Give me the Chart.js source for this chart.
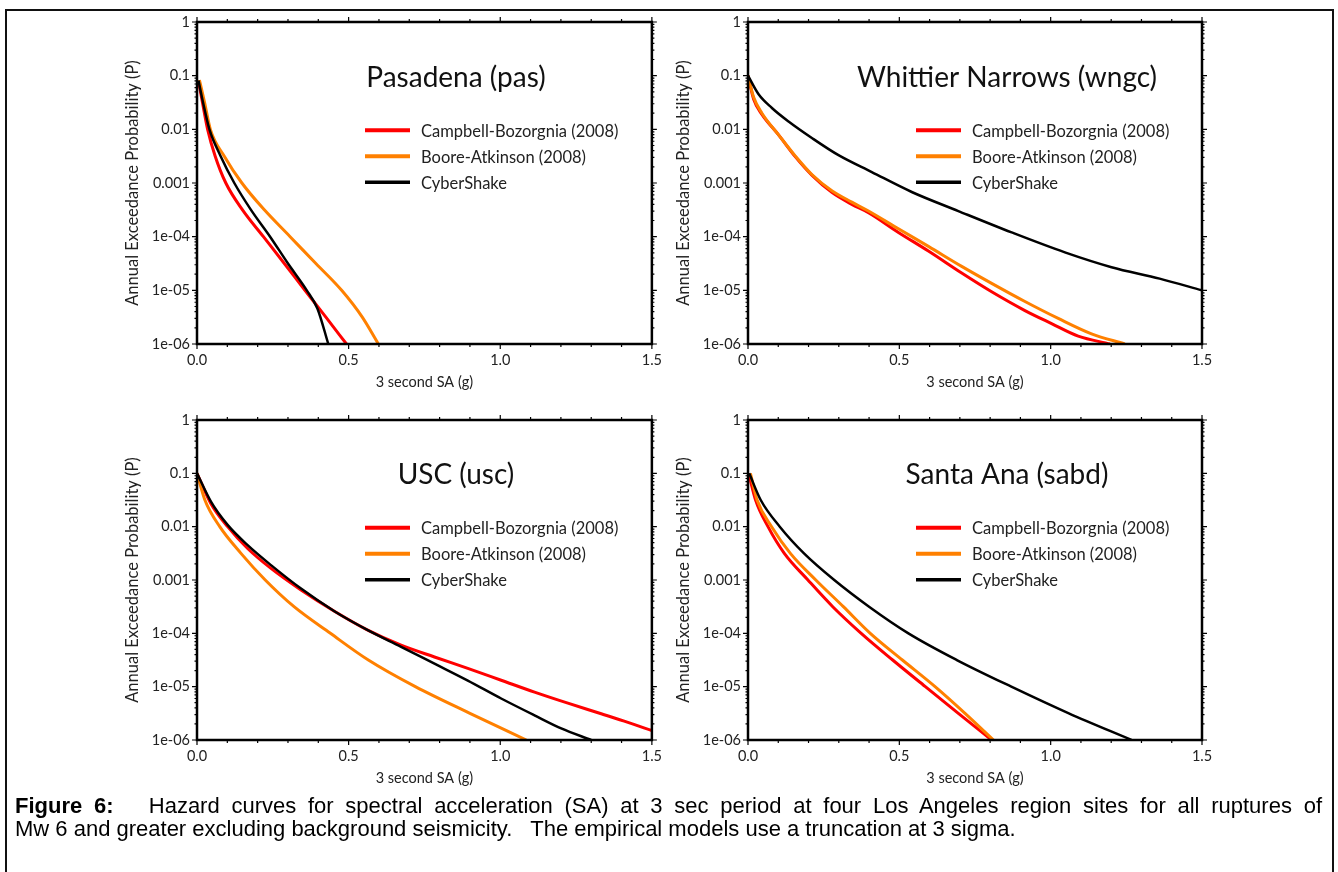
<!DOCTYPE html>
<html>
<head>
<meta charset="utf-8">
<title>Figure 6 - Hazard curves</title>
<script src="https://cdn.jsdelivr.net/npm/chart.js@4.4.0/dist/chart.umd.min.js"></script>
<style>
  body { margin: 0; background: #fff; width: 1338px; height: 872px; overflow: hidden; position: relative; }
  #frame { position: absolute; left: 5px; top: 9px; width: 1325px; height: 900px; border: 2px solid #111; }
  .panel { position: absolute; }
  .cap { position: absolute; left: 15px; font-family: "Liberation Sans", Arial, sans-serif;
         font-size: 22px; line-height: 23px; color: #000; white-space: nowrap; }
  #cap1 { top: 794px; width: 1307px; text-align: justify; text-align-last: justify; }
  #cap2 { top: 817px; }
</style>
</head>
<body>
<div id="frame"></div>
<canvas id="pas" class="panel" width="570" height="400" style="left:100px;top:0px"></canvas>
<canvas id="wngc" class="panel" width="570" height="400" style="left:651px;top:0px"></canvas>
<canvas id="usc" class="panel" width="570" height="400" style="left:100px;top:398px"></canvas>
<canvas id="sabd" class="panel" width="570" height="400" style="left:651px;top:398px"></canvas>
<div id="cap1" class="cap"><b>Figure 6:</b>&nbsp;&nbsp; Hazard curves for spectral acceleration (SA) at 3 sec period at four Los Angeles region sites for all ruptures of</div>
<div id="cap2" class="cap">Mw 6 and greater excluding background seismicity.&nbsp;&nbsp; The empirical models use a truncation at 3 sigma.</div>

<script>
// ----------------------- Data (SA in g, annual probability) ----------------------
const seriesNames = ['Campbell-Bozorgnia (2008)', 'Boore-Atkinson (2008)', 'CyberShake'];
const seriesColors = ['#ff0000', '#ff8000', '#000000'];
const siteNames = ['Pasadena (pas)', 'Whittier Narrows (wngc)', 'USC (usc)', 'Santa Ana (sabd)'];

const xTickValues = [0, 0.5, 1.0, 1.5];
const xTickText = ['0.0', '0.5', '1.0', '1.5'];
const yTickValues = [1e-6, 1e-5, 1e-4, 0.001, 0.01, 0.1, 1];
const yTickText = ['1e-06', '1e-05', '1e-04', '0.001', '0.01', '0.1', '1'];

// Pasadena
const pasCB = [[0.005, 0.079], [0.018, 0.0316], [0.035, 0.01], [0.060, 0.00316], [0.095, 0.001],
  [0.150, 3.16e-4], [0.219, 1e-4], [0.288, 3.16e-5], [0.356, 1e-5], [0.425, 3.16e-6], [0.493, 1e-6]];
const pasBA = [[0.008, 0.083], [0.025, 0.0316], [0.044, 0.01], [0.090, 0.00316], [0.148, 0.001],
  [0.222, 3.16e-4], [0.307, 1e-4], [0.392, 3.16e-5], [0.477, 1e-5], [0.545, 3.16e-6], [0.598, 1e-6]];
const pasCS = [[0.005, 0.081], [0.020, 0.0316], [0.041, 0.01], [0.078, 0.00316], [0.123, 0.001],
  [0.178, 3.16e-4], [0.241, 1e-4], [0.300, 3.16e-5], [0.362, 1e-5], [0.397, 4.6e-6], [0.433, 1e-6]];

// Whittier Narrows
const wngcCB = [[0, 0.1], [0.019, 0.036], [0.046, 0.019], [0.101, 0.0079], [0.156, 0.0031],
  [0.211, 0.0014], [0.277, 6.7e-4], [0.343, 4.0e-4], [0.398, 2.8e-4], [0.497, 1.2e-4],
  [0.596, 5.4e-5], [0.706, 2.1e-5], [0.805, 9.4e-6], [0.915, 4.2e-6], [1.003, 2.4e-6],
  [1.091, 1.4e-6], [1.196, 1e-6]];
const wngcBA = [[0, 0.1], [0.019, 0.039], [0.046, 0.020], [0.101, 0.0079], [0.156, 0.0032],
  [0.211, 0.00144], [0.277, 7.2e-4], [0.343, 4.4e-4], [0.398, 3.0e-4], [0.497, 1.4e-4],
  [0.596, 6.6e-5], [0.706, 2.8e-5], [0.805, 1.35e-5], [0.915, 6.2e-6], [1.025, 3.0e-6],
  [1.135, 1.55e-6], [1.245, 1e-6]];
const wngcCS = [[0, 0.1], [0.035, 0.045], [0.079, 0.025], [0.134, 0.014], [0.211, 0.0069],
  [0.299, 0.0033], [0.409, 0.0016], [0.541, 6.8e-4], [0.695, 3.0e-4], [0.871, 1.2e-4],
  [1.047, 5.1e-5], [1.201, 2.7e-5], [1.360, 1.65e-5], [1.5, 1.0e-5]];

// USC
const uscCB = [[0, 0.1], [0.046, 0.027], [0.101, 0.0100], [0.167, 0.0039], [0.244, 0.00165],
  [0.343, 6.5e-4], [0.453, 2.6e-4], [0.563, 1.15e-4], [0.673, 6.0e-5], [0.783, 3.6e-5],
  [0.893, 2.2e-5], [1.003, 1.32e-5], [1.113, 7.9e-6], [1.223, 4.9e-6], [1.333, 3.1e-6],
  [1.421, 2.14e-6], [1.5, 1.5e-6]];
const uscBA = [[0, 0.1], [0.026, 0.0316], [0.075, 0.01], [0.145, 0.00316], [0.225, 0.001],
  [0.320, 3.16e-4], [0.440, 1e-4], [0.565, 3.16e-5], [0.720, 1e-5], [0.900, 3.16e-6], [1.086, 1e-6]];
const uscCS = [[0, 0.1], [0.046, 0.0295], [0.101, 0.0108], [0.167, 0.0045], [0.244, 0.0019],
  [0.343, 6.9e-4], [0.453, 2.6e-4], [0.563, 1.15e-4], [0.673, 5.6e-5], [0.783, 2.7e-5],
  [0.893, 1.3e-5], [1.003, 6.0e-6], [1.113, 2.9e-6], [1.201, 1.65e-6], [1.300, 1e-6]];

// Santa Ana
const sabdCB = [[0.002, 0.1], [0.025, 0.0316], [0.066, 0.01], [0.120, 0.00316], [0.198, 0.001],
  [0.280, 3.16e-4], [0.374, 1e-4], [0.478, 3.16e-5], [0.586, 1e-5], [0.695, 3.16e-6], [0.805, 1e-6]];
const sabdBA = [[0.008, 0.1], [0.030, 0.0316], [0.078, 0.01], [0.140, 0.00316], [0.224, 0.001],
  [0.315, 3.16e-4], [0.404, 1e-4], [0.510, 3.16e-5], [0.618, 1e-5], [0.717, 3.16e-6], [0.811, 1e-6]];
const sabdCS = [[0.004, 0.1], [0.042, 0.0316], [0.105, 0.01], [0.185, 0.00316], [0.285, 0.001],
  [0.400, 3.16e-4], [0.530, 1e-4], [0.690, 3.16e-5], [0.870, 1e-5], [1.060, 3.16e-6], [1.267, 1e-6]];

// ----------------------- Plot decorations ---------------------------------------
// frame, ticks on all four sides, site title and legend inside the plot
const panelDecor = {
  id: 'panelDecor',
  afterDatasetsDraw(chart, args, opts) {
    const { ctx, chartArea: a, scales: { x, y } } = chart;
    ctx.save();
    ctx.strokeStyle = '#000';
    ctx.lineWidth = 1.2;
    ctx.beginPath();
    for (let i = 0; i <= 15; i++) {
      const px = x.getPixelForValue(i / 10);
      const len = i % 5 === 0 ? 5 : 3;
      ctx.moveTo(px, a.bottom); ctx.lineTo(px, a.bottom + len);
      ctx.moveTo(px, a.top); ctx.lineTo(px, a.top - len);
    }
    for (let e = -6; e <= 0; e++) {
      for (let m = 1; m <= 9; m++) {
        const v = m * Math.pow(10, e);
        if (v > 1.0001) break;
        const py = y.getPixelForValue(v);
        const len = m === 1 ? 5 : 2.5;
        ctx.moveTo(a.left, py); ctx.lineTo(a.left - len, py);
        ctx.moveTo(a.right, py); ctx.lineTo(a.right + len, py);
      }
    }
    ctx.stroke();

    ctx.lineWidth = 2.5;
    ctx.strokeRect(a.left, a.top, a.right - a.left, a.bottom - a.top);

    // site title
    ctx.fillStyle = '#111';
    ctx.font = '28px Lato, "Noto Sans", sans-serif';
    ctx.textAlign = 'center';
    ctx.textBaseline = 'middle';
    ctx.fillText(opts.title, a.left + 259, y.getPixelForValue(0.1) + 2);

    // legend
    const y0 = y.getPixelForValue(0.01) + 1;
    ctx.font = '16.5px Lato, "Noto Sans", sans-serif';
    ctx.textAlign = 'left';
    chart.data.datasets.forEach((ds, i) => {
      const ly = y0 + i * 26;
      ctx.strokeStyle = ds.borderColor;
      ctx.lineWidth = ds.borderWidth + 1;
      ctx.beginPath();
      ctx.moveTo(a.left + 168, ly);
      ctx.lineTo(a.left + 213, ly);
      ctx.stroke();
      ctx.fillStyle = '#222';
      ctx.fillText(ds.label, a.left + 224, ly + 1);
    });
    ctx.restore();
  }
};

function toPoints(pairs) {
  return pairs.map(p => ({ x: p[0], y: p[1] }));
}

function makePanel(id, title, curves, padding) {
  const datasets = curves.map((c, i) => ({
    label: seriesNames[i],
    data: toPoints(c),
    borderColor: seriesColors[i],
    borderWidth: i === 2 ? 2.5 : 3,
    pointRadius: 0,
    showLine: true,
    fill: false,
    cubicInterpolationMode: 'monotone',
    order: 3 - i
  }));

  return new Chart(document.getElementById(id), {
    type: 'scatter',
    data: { datasets },
    plugins: [panelDecor],
    options: {
      responsive: false,
      animation: false,
      events: [],
      layout: { padding },
      plugins: {
        legend: { display: false },
        tooltip: { enabled: false },
        panelDecor: { title }
      },
      scales: {
        x: {
          type: 'linear',
          min: 0,
          max: 1.5,
          afterBuildTicks: s => { s.ticks = xTickValues.map(v => ({ value: v })); },
          afterFit: s => { s.height = 50; },
          grid: { display: false, drawTicks: false },
          border: { display: false },
          ticks: {
            autoSkip: false,
            maxRotation: 0,
            padding: 8,
            color: '#222',
            font: { family: 'Lato, "Noto Sans", sans-serif', size: 14.5 },
            callback: (v, i) => xTickText[i]
          },
          title: {
            display: true,
            text: '3 second SA (g)',
            color: '#222',
            padding: { top: 0, bottom: 3 },
            font: { family: 'Lato, "Noto Sans", sans-serif', size: 14.5 }
          }
        },
        y: {
          type: 'logarithmic',
          min: 1e-6,
          max: 1,
          afterBuildTicks: s => { s.ticks = yTickValues.map(v => ({ value: v })); },
          afterFit: s => { s.width = 97; },
          grid: { display: false, drawTicks: false },
          border: { display: false },
          ticks: {
            autoSkip: false,
            padding: 7,
            color: '#222',
            font: { family: 'Lato, "Noto Sans", sans-serif', size: 14.5 },
            callback: (v, i) => yTickText[i]
          },
          title: {
            display: true,
            text: 'Annual Exceedance Probability (P)',
            color: '#222',
            padding: { top: 23, bottom: 0 },
            font: { family: 'Lato, "Noto Sans", sans-serif', size: 16.5 }
          }
        }
      }
    }
  });
}

makePanel('pas', siteNames[0], [pasCB, pasBA, pasCS], { top: 22, right: 17, bottom: 6, left: 0 });
makePanel('wngc', siteNames[1], [wngcCB, wngcBA, wngcCS], { top: 22, right: 19, bottom: 6, left: 0 });
makePanel('usc', siteNames[2], [uscCB, uscBA, uscCS], { top: 22, right: 17, bottom: 8, left: 0 });
makePanel('sabd', siteNames[3], [sabdCB, sabdBA, sabdCS], { top: 22, right: 19, bottom: 8, left: 0 });
</script>
</body>
</html>
